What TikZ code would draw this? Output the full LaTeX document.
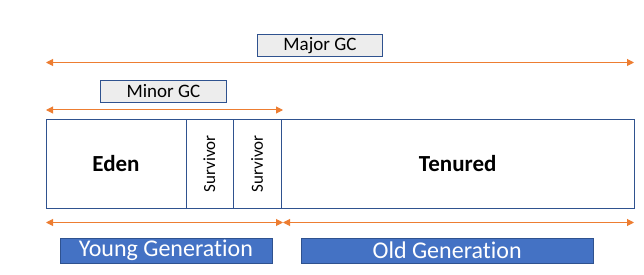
\documentclass[tikz,border=0pt]{standalone}
\usepackage{fontspec}
\setmainfont{Carlito}[Ligatures={NoCommon,NoRare,NoDiscretionary}]
\usetikzlibrary{arrows.meta}
\definecolor{gcorange}{HTML}{ED7D31}
\definecolor{gcblue}{HTML}{4472C4}
\definecolor{gcborder}{HTML}{2F528F}
\definecolor{gcgray}{HTML}{EDEDED}
\begin{document}
\begin{tikzpicture}[x=1pt,y=-1pt,
  lbl/.style={draw=gcborder,fill=gcgray,line width=0.9pt,inner sep=0pt,anchor=north west,font=\fontsize{19}{22}\selectfont},
  gen/.style={draw=gcborder,fill=gcblue,line width=0.9pt,inner sep=0pt,anchor=north west,text=white,font=\fontsize{24}{28}\selectfont},
  cell/.style={draw=gcborder,line width=0.9pt,inner sep=0pt,anchor=north west,minimum height=88pt},
  span/.style={draw=gcorange,line width=1pt,{Triangle[length=7pt,width=7pt]}-{Triangle[length=7pt,width=7pt]}}
]
\useasboundingbox (0,0) rectangle (644,275);
\node[lbl,minimum width=125pt,minimum height=22pt] (major) at (257,34) {Major GC};
\node[lbl,minimum width=126pt,minimum height=22pt] (minor) at (100,80) {Minor GC};
\node[cell,minimum width=140pt,font=\bfseries\fontsize{23}{26}\selectfont] (eden) at (45.5,119.5) {Eden};
\node[cell,minimum width=47pt] (s1) at (185.5,119.5) {};
\node[cell,minimum width=48.5pt] (s2) at (232.5,119.5) {};
\node[cell,minimum width=352.5pt,font=\bfseries\fontsize{23}{26}\selectfont] (ten) at (281,119.5) {Tenured};
\node[rotate=90,font=\fontsize{17}{20}\selectfont] (s1t) at (s1.center) {Survivor};
\node[rotate=90,font=\fontsize{17}{20}\selectfont] (s2t) at (s2.center) {Survivor};
\node[gen,minimum width=212pt,minimum height=25pt] (young) at (59.5,237.5) {Young Generation};
\node[gen,minimum width=291.5pt,minimum height=25pt] (old) at (301,237.5) {Old Generation};
\coordinate (ma) at (46,62.5);
\coordinate (mb) at (634,62.5);
\coordinate (na) at (46,110);
\coordinate (nb) at (283,110);
\coordinate (ya) at (46,222.5);
\coordinate (yb) at (283,222.5);
\coordinate (oa) at (283,222.5);
\coordinate (ob) at (634,222.5);
\draw[span] (ma) -- (mb);
\draw[span] (na) -- (nb);
\draw[span] (ya) -- (yb);
\draw[span] (oa) -- (ob);
\end{tikzpicture}
\end{document}
